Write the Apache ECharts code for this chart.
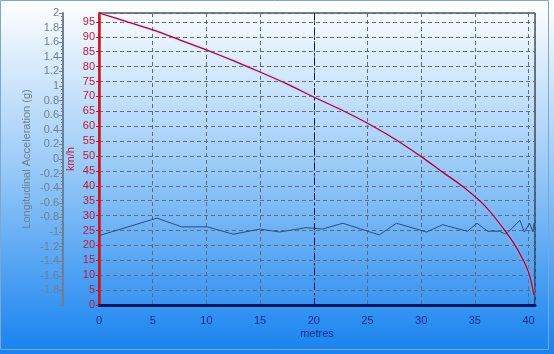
<!DOCTYPE html>
<html>
<head>
<meta charset="utf-8">
<script src="https://cdn.jsdelivr.net/npm/echarts@6/dist/echarts.min.js"></script>
<style>
  html, body { margin: 0; padding: 0; }
  #chart { width: 554px; height: 354px; }
</style>
</head>
<body>
<div id="chart"></div>
<script>
// distance along the run (metres) and speed (km/h)
const speedMetres = [0, 2.5, 5, 7.5, 10, 12.5, 15, 17.5, 20, 22.5, 25, 27.5, 30, 32, 34, 36, 38, 39, 40, 40.5]
const speedKmh = [98, 95.2, 92.3, 89, 85.6, 82, 78.2, 74.2, 69.8, 65.6, 61, 55.8, 49.8, 44.6, 39.4, 33, 24, 18.5, 11, 3.4]

// longitudinal acceleration (g)
const accelMetres = [0, 5.4, 7.7, 10.1, 12.5, 15, 16.8, 19.3, 20.8, 22.7, 26.1, 27.7, 30.5, 32, 34.3, 35.2, 36.2, 37.3, 37.9, 39.2, 39.6, 40.1, 40.4, 40.5]
const accelG = [-1.05, -0.81, -0.93, -0.93, -1.03, -0.96, -1.0, -0.94, -0.96, -0.88, -1.04, -0.88, -1.0, -0.9, -0.99, -0.88, -0.99, -0.99, -1.03, -0.84, -1.0, -0.88, -1.0, -0.88]

const markerMetres = 20

const font = 'Liberation Sans'
let myChart = echarts.init(document.getElementById('chart'))
let option = {
  animation: false,
  backgroundColor: new echarts.graphic.LinearGradient(0, 0, 0, 1, [
    { offset: 0, color: '#ffffff' },
    { offset: 0.45, color: '#9fcdf8' },
    { offset: 1, color: '#1682f0' }
  ]),
  graphic: [{
    type: 'rect',
    shape: { x: 0.5, y: 0.5, width: 548, height: 349 },
    style: { fill: 'none', stroke: '#7fa6cc', lineWidth: 1 }
  }],
  grid: {
    left: 99,
    right: 19,
    top: 13,
    bottom: 49,
    show: true,
    borderColor: '#000',
    borderWidth: 1
  },
  xAxis: {
    type: 'value',
    min: 0,
    max: 40.6,
    interval: 5,
    name: 'metres',
    nameLocation: 'middle',
    nameGap: 23,
    nameMoveOverlap: false,
    nameTextStyle: { color: '#1c2a8a', fontSize: 11, fontFamily: font },
    axisLine: { show: true, onZero: false, lineStyle: { color: '#0a1660', width: 3 } },
    axisTick: { show: false },
    axisLabel: { color: '#1c2a8a', fontSize: 11, fontFamily: font, margin: 10, showMaxLabel: false },
    splitLine: { show: true, lineStyle: { color: '#5c6c84', type: [4, 3], width: 1 } }
  },
  yAxis: [
    {
      type: 'value',
      min: 0,
      max: 98,
      interval: 5,
      name: 'km/h',
      nameLocation: 'middle',
      nameGap: 23,
      nameMoveOverlap: false,
      nameTextStyle: { color: '#c0183c', fontSize: 11, fontFamily: font },
      axisLine: { show: true, onZero: false, lineStyle: { color: '#d8101c', width: 2.5 } },
      axisTick: { show: true, length: 3, lineStyle: { color: '#d8101c' } },
      axisLabel: { color: '#c0183c', fontSize: 11, fontFamily: font, margin: 4, showMaxLabel: false },
      splitLine: { show: true, lineStyle: { color: '#5c6c84', type: [4, 3], width: 1 } }
    },
    {
      type: 'value',
      position: 'left',
      offset: 36,
      min: -2,
      max: 2,
      interval: 0.2,
      name: 'Longitudinal Acceleration (g)',
      nameLocation: 'middle',
      nameGap: 31,
      nameMoveOverlap: false,
      nameTextStyle: { color: '#6f8095', fontSize: 11, fontFamily: font },
      axisLine: { show: true, onZero: false, lineStyle: { color: '#6f8095', width: 2 } },
      axisTick: { show: true, length: 4, lineStyle: { color: '#6f8095' } },
      minorTick: { show: true, splitNumber: 4, length: 2, lineStyle: { color: '#6f8095' } },
      axisLabel: { color: '#6f8095', fontSize: 11, fontFamily: font, margin: 4, showMinLabel: false },
      splitLine: { show: false }
    }
  ],
  series: [
    {
      name: 'Longitudinal Acceleration',
      type: 'line',
      yAxisIndex: 1,
      showSymbol: false,
      lineStyle: { color: '#2c4c82', width: 1 },
      data: accelMetres.map((m, i) => [m, accelG[i]])
    },
    {
      name: 'Speed',
      type: 'line',
      yAxisIndex: 0,
      smooth: 0.3,
      showSymbol: false,
      lineStyle: { color: '#8c1048', width: 1.3, shadowColor: 'rgba(255,170,220,0.9)', shadowBlur: 3 },
      data: speedMetres.map((m, i) => [m, speedKmh[i]]),
      markLine: {
        silent: true,
        symbol: 'none',
        label: { show: false },
        lineStyle: { color: '#0a1660', type: [7, 3, 2, 3], width: 1 },
        data: [{ xAxis: markerMetres }]
      }
    }
  ]
}
myChart.setOption(option, true)
</script>
</body>
</html>
